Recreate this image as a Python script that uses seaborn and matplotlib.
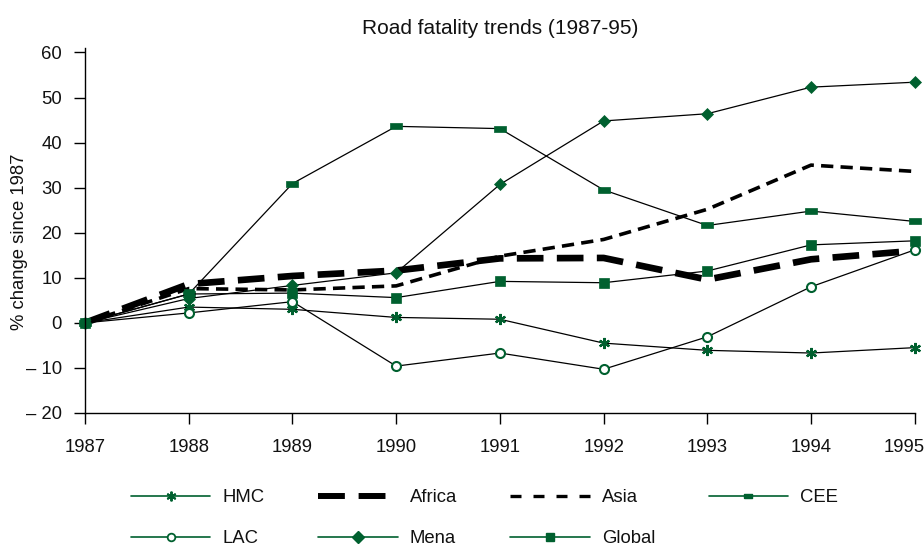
import matplotlib
matplotlib.use("Agg")
import matplotlib.pyplot as plt
import matplotlib.transforms as mtransforms
from matplotlib.lines import Line2D
import seaborn as sns

years = [1987, 1988, 1989, 1990, 1991, 1992, 1993, 1994, 1995]
hmc = [0, 3.5, 3.0, 1.2, 0.8, -4.5, -6.1, -6.7, -5.5]
africa = [0, 8.6, 10.4, 11.6, 14.3, 14.4, 9.6, 14.1, 16.0]
asia = [0, 7.6, 7.3, 8.2, 14.8, 18.5, 25.2, 35.0, 33.6]
cee = [0, 6.4, 30.9, 43.6, 43.1, 29.5, 21.6, 24.8, 22.5]
lac = [0, 2.2, 4.7, -9.6, -6.7, -10.3, -3.1, 8.0, 16.2]
mena = [0, 5.4, 8.3, 11.1, 30.7, 44.8, 46.4, 52.3, 53.4]
glob = [0, 6.4, 6.6, 5.6, 9.2, 8.9, 11.5, 17.3, 18.2]

yticks = [-20, -10, 0, 10, 20, 30, 40, 50, 60]
ytick_labels = ["\u2013 20", "\u2013 10", "0", "10", "20", "30", "40", "50", "60"]
xtick_labels = ["1987", "1988", "1989", "1990", "1991", "1992", "1993", "1994", "1995"]
title = "Road fatality trends (1987-95)"
ylabel = "% change since 1987"
legend_labels = ["HMC", "LAC", "Africa", "Mena", "Asia", "Global", "CEE"]

GREEN = "#00602f"
TXT = "#111111"

sns.set_theme(style="ticks")
plt.rcParams["font.family"] = ["Liberation Sans", "DejaVu Sans"]
FS = 13.3

fig = plt.figure(figsize=(9.24, 5.51), dpi=100)
ax = fig.add_axes([0.092, 0.2505, 0.898, 0.6625])

rect = [(-1, -0.45), (1, -0.45), (1, 0.45), (-1, 0.45), (-1, -0.45)]
thin = dict(color="black", lw=0.9, clip_on=False)

sns.lineplot(x=years, y=asia, ax=ax, color="black", lw=2.6,
             linestyle=(0, (3.4, 2.0)), clip_on=False)
sns.lineplot(x=years, y=africa, ax=ax, color="black", lw=4.8,
             linestyle=(0, (4.0, 2.0)), clip_on=False)
sns.lineplot(x=years, y=hmc, ax=ax, marker=(6, 2, 0), markersize=8,
             markeredgecolor=GREEN, markerfacecolor=GREEN, markeredgewidth=1.6, **thin)
sns.lineplot(x=years, y=cee, ax=ax, marker=rect, markersize=8.5,
             markeredgecolor=GREEN, markerfacecolor=GREEN, markeredgewidth=0.5, **thin)
sns.lineplot(x=years, y=lac, ax=ax, marker="o", markersize=6.5,
             markeredgecolor=GREEN, markerfacecolor="white", markeredgewidth=1.5, **thin)
sns.lineplot(x=years, y=mena, ax=ax, marker="D", markersize=6.5,
             markeredgecolor=GREEN, markerfacecolor=GREEN, markeredgewidth=0.5, **thin)
sns.lineplot(x=years, y=glob, ax=ax, marker="s", markersize=7,
             markeredgecolor=GREEN, markerfacecolor=GREEN, markeredgewidth=0.5, **thin)

ax.set_xlim(years[0], years[-1])
ax.set_ylim(-20, 61)
ax.set_xticks(years)
ax.set_xticklabels(xtick_labels, fontsize=FS)
ax.set_yticks(yticks)
ax.set_yticklabels(ytick_labels, fontsize=FS)
ax.tick_params(axis="both", direction="out", length=8, width=1, color="black",
               labelcolor=TXT)
ax.tick_params(axis="y", pad=8.5)
ax.tick_params(axis="x", pad=11)
for s in ["top", "right"]:
    ax.spines[s].set_visible(False)
for s in ["left", "bottom"]:
    ax.spines[s].set_color("black")
    ax.spines[s].set_linewidth(1)
ax.grid(False)
ax.set_ylabel(ylabel, fontsize=FS, color=TXT)
ax.yaxis.set_label_coords(-0.069, 0.47)
ax.set_xlabel("")
ax.set_title(title, fontsize=15, color=TXT, pad=10)

# shift last x tick label left so it fits inside the figure, as in the reference
last = ax.xaxis.get_major_ticks()[-1].label1
last.set_transform(last.get_transform() +
                   mtransforms.ScaledTranslation(-11 / 100, 0, fig.dpi_scale_trans))

h_hmc = Line2D([], [], color=GREEN, lw=1.2, marker=(6, 2, 0), markersize=7,
               markeredgecolor=GREEN, markeredgewidth=1.4)
h_africa = Line2D([], [], color="black", lw=4.3, linestyle=(0, (4.5, 2.3)))
h_asia = Line2D([], [], color="black", lw=2.4, linestyle=(0, (3.3, 3.6)))
h_cee = Line2D([], [], color=GREEN, lw=1.2, marker=rect, markersize=6,
               markeredgecolor=GREEN, markerfacecolor=GREEN)
h_lac = Line2D([], [], color=GREEN, lw=1.2, marker="o", markersize=5.5,
               markeredgecolor=GREEN, markerfacecolor="white", markeredgewidth=1.3)
h_mena = Line2D([], [], color=GREEN, lw=1.2, marker="D", markersize=6,
                markeredgecolor=GREEN, markerfacecolor=GREEN)
h_glob = Line2D([], [], color=GREEN, lw=1.2, marker="s", markersize=6,
                markeredgecolor=GREEN, markerfacecolor=GREEN)

handles = [h_hmc, h_lac, h_africa, h_mena, h_asia, h_glob, h_cee]
fig.legend(handles, legend_labels, ncol=4, loc="center left",
           bbox_to_anchor=(131 / 924, 1 - 518 / 551), frameon=False,
           fontsize=FS, handlelength=4.3, handletextpad=0.65, columnspacing=2.9,
           labelspacing=1.3, borderpad=0, borderaxespad=0, labelcolor=TXT)

fig.savefig("out.png", dpi=100)
